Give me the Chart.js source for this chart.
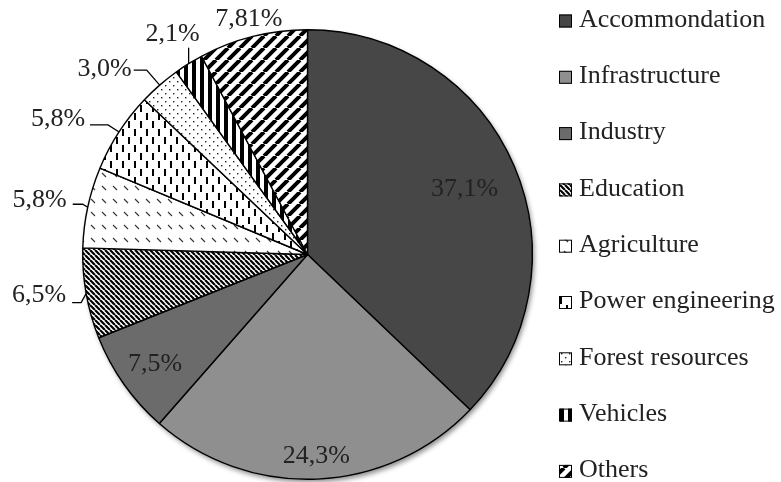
<!DOCTYPE html>
<html>
<head>
<meta charset="utf-8">
<script src="https://cdn.jsdelivr.net/npm/chart.js@4/dist/chart.umd.min.js"></script>
<style>
    body { margin: 0; background: #fff; }
    .chart-box { width: 781px; height: 482px; position: relative; }
</style>
</head>
<body>
<div class="chart-box"><canvas id="pieChart"></canvas></div>
<script>
const categories = ['Accommondation', 'Infrastructure', 'Industry', 'Education', 'Agriculture',
    'Power engineering', 'Forest resources', 'Vehicles', 'Others'];
const shares = [37.1, 24.3, 7.5, 6.5, 5.8, 5.8, 3.0, 2.1, 7.81];
const shareLabels = ['37,1%', '24,3%', '7,5%', '6,5%', '5,8%', '5,8%', '3,0%', '2,1%', '7,81%'];

const FONT = "26px 'Liberation Serif', 'Times New Roman', serif";
const TEXT = '#222';

// label placement: inside -> fraction of radius along the mid angle,
// outside -> text offset and leader line relative to the point on the rim
const labelPlacement = [
    { inside: 0.76 },
    { inside: 0.89 },
    { inside: 0.83 },
    { tx: -20, ty: 2, align: 'right', line: [[0, 0], [-5, 9], [-14, 9]] },
    { tx: -21, ty: -7, align: 'right', line: [[0, 0], [-5, -3], [-15, -3]] },
    { tx: -34, ty: -13, align: 'right', line: [[0, 0], [-11, -7], [-29, -7]] },
    { tx: -28, ty: -16, align: 'right', line: [[0, 0], [-13, -15], [-26, -15]] },
    { tx: -16, ty: -30, align: 'center', line: [[0, 0], [0, -16]] },
    { tx: -4, ty: -17, align: 'center', line: null }
];

function makePattern(w, h, draw) {
    const c = document.createElement('canvas');
    c.width = w;
    c.height = h;
    const g = c.getContext('2d');
    g.fillStyle = '#fff';
    g.fillRect(0, 0, w, h);
    draw(g);
    return document.createElement('canvas').getContext('2d').createPattern(c, 'repeat');
}

function diagonal(g, size, width, back) {
    g.strokeStyle = '#000';
    g.lineWidth = width;
    g.beginPath();
    for (let k = -1; k <= 1; k++) {
        if (back) {
            g.moveTo(k * size, 0);
            g.lineTo(k * size + size, size);
        } else {
            g.moveTo(k * size, size);
            g.lineTo(k * size + size, 0);
        }
    }
    g.stroke();
}

const fills = [
    '#474747',
    '#8f8f8f',
    '#6b6b6b',
    makePattern(5, 5, g => diagonal(g, 5, 2.2, true)),
    makePattern(11, 13, g => {
        g.strokeStyle = '#333';
        g.lineWidth = 1.1;
        g.beginPath();
        g.moveTo(3, 4); g.lineTo(7, 8);
        g.stroke();
    }),
    makePattern(12, 16, g => {
        g.fillStyle = '#000';
        g.fillRect(2, 1, 2, 7);
        g.fillRect(8, 9, 2, 7);
    }),
    makePattern(8, 8, g => {
        g.fillStyle = '#222';
        g.fillRect(1, 1, 1.4, 1.4);
        g.fillRect(5, 5, 1.4, 1.4);
    }),
    makePattern(8, 8, g => {
        g.fillStyle = '#000';
        g.fillRect(0, 0, 4, 8);
    }),
    makePattern(12, 12, g => diagonal(g, 12, 4, false))
];

const pieShadow = {
    id: 'pieShadow',
    beforeDatasetsDraw(chart) {
        const arc = chart.getDatasetMeta(0).data[0];
        if (!arc) return;
        const ctx = chart.ctx;
        ctx.save();
        ctx.shadowColor = 'rgba(0,0,0,0.45)';
        ctx.shadowBlur = 5;
        ctx.shadowOffsetX = 2;
        ctx.shadowOffsetY = 3;
        ctx.fillStyle = '#fff';
        ctx.beginPath();
        ctx.arc(arc.x, arc.y, arc.outerRadius, 0, Math.PI * 2);
        ctx.fill();
        ctx.restore();
    }
};

const sliceLabels = {
    id: 'sliceLabels',
    afterDatasetsDraw(chart) {
        const ctx = chart.ctx;
        const arcs = chart.getDatasetMeta(0).data;
        ctx.save();
        ctx.font = FONT;
        ctx.fillStyle = TEXT;
        ctx.strokeStyle = '#000';
        ctx.lineWidth = 1.3;
        ctx.textBaseline = 'middle';
        arcs.forEach((arc, i) => {
            const p = labelPlacement[i];
            const mid = (arc.startAngle + arc.endAngle) / 2;
            const cos = Math.cos(mid), sin = Math.sin(mid);
            if (p.inside) {
                ctx.textAlign = 'center';
                const r = arc.outerRadius * p.inside;
                ctx.fillText(shareLabels[i], arc.x + r * cos, arc.y + r * sin + 2);
                return;
            }
            const ax = arc.x + arc.outerRadius * cos;
            const ay = arc.y + arc.outerRadius * sin;
            if (p.line) {
                ctx.beginPath();
                p.line.forEach(([dx, dy], k) => {
                    if (k === 0) ctx.moveTo(ax + dx, ay + dy);
                    else ctx.lineTo(ax + dx, ay + dy);
                });
                ctx.stroke();
            }
            ctx.textAlign = p.align;
            ctx.fillText(shareLabels[i], ax + p.tx, ay + p.ty);
        });
        ctx.restore();
    }
};

const sideLegend = {
    id: 'sideLegend',
    afterDraw(chart) {
        const ctx = chart.ctx;
        const x = 559, top = 19, step = 56.3, box = 13;
        ctx.save();
        ctx.font = FONT;
        ctx.textBaseline = 'middle';
        ctx.textAlign = 'left';
        categories.forEach((name, i) => {
            const y = top + i * step;
            ctx.fillStyle = fills[i];
            ctx.fillRect(x, y - box / 2 + 2, box, box);
            ctx.strokeStyle = '#000';
            ctx.lineWidth = 1;
            ctx.strokeRect(x + 0.5, y - box / 2 + 2.5, box - 1, box - 1);
            ctx.fillStyle = TEXT;
            ctx.fillText(name, x + 20, y + 1);
        });
        ctx.restore();
    }
};

new Chart(document.getElementById('pieChart'), {
    type: 'pie',
    data: {
        labels: categories,
        datasets: [{
            data: shares,
            backgroundColor: fills,
            borderColor: '#000',
            borderWidth: 1.4,
            hoverOffset: 0
        }]
    },
    options: {
        responsive: true,
        maintainAspectRatio: false,
        animation: false,
        layout: { padding: { left: 82, right: 248, top: 29, bottom: 2 } },
        plugins: {
            legend: { display: false },
            tooltip: { enabled: false }
        }
    },
    plugins: [pieShadow, sliceLabels, sideLegend]
});
</script>
</body>
</html>
